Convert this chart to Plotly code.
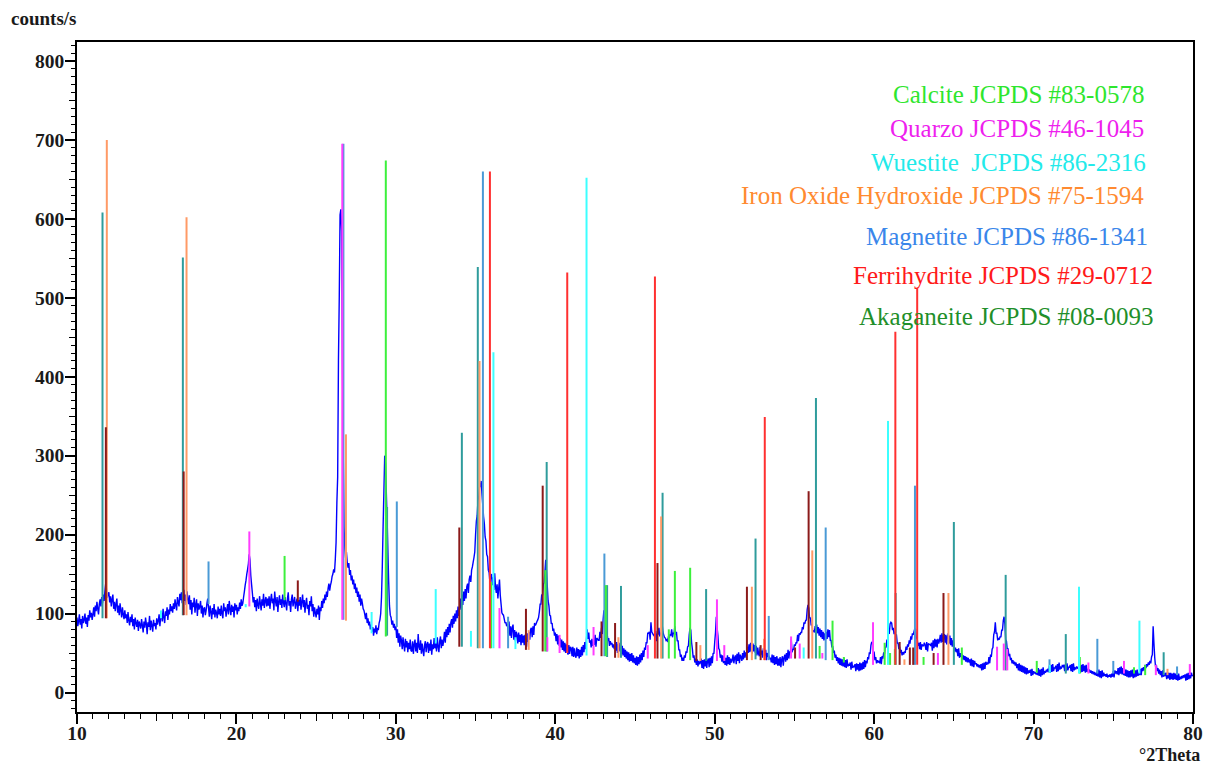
import numpy as np
import plotly.graph_objects as go

# ---------------- measured pattern (counts/s), 0.05 deg steps from 10 to 80 deg 2Theta
intensity_rows = [
    [95, 84, 90, 99, 86, 93, 81, 97, 88, 92, 100, 87, 95, 83, 98, 91, 104, 95, 101, 92],          # 10
    [99, 108, 96, 110, 103, 115, 106, 99, 112, 118, 109, 121, 113, 124, 116, 128, 138, 131, 120, 125],  # 11
    [127, 114, 122, 109, 118, 124, 106, 115, 103, 112, 119, 101, 110, 98, 113, 104, 95, 108, 99, 93],   # 12
    [104, 94, 99, 88, 102, 91, 85, 96, 89, 99, 84, 93, 80, 95, 88, 83, 92, 78, 90, 86],          # 13
    [81, 93, 85, 76, 90, 82, 95, 87, 74, 89, 83, 97, 79, 91, 85, 77, 92, 84, 88, 80],            # 14
    [94, 86, 91, 99, 84, 96, 101, 90, 106, 95, 88, 103, 97, 108, 92, 105, 99, 112, 103, 109],    # 15
    [101, 113, 106, 118, 110, 104, 121, 114, 109, 125, 117, 127, 113, 122, 130, 116, 124, 111, 128, 119],  # 16
    [112, 123, 105, 117, 99, 114, 108, 120, 101, 111, 118, 97, 113, 105, 109, 116, 100, 110, 95, 106],  # 17
    [108, 98, 104, 113, 119, 107, 96, 110, 102, 93, 107, 99, 112, 95, 105, 101, 94, 109, 99, 106],  # 18
    [97, 110, 100, 94, 113, 103, 108, 96, 105, 112, 99, 116, 106, 98, 111, 102, 109, 95, 113, 104],  # 19
    [111, 99, 108, 103, 114, 106, 118, 110, 113, 121, 128, 136, 142, 150, 156, 163, 175, 168, 148, 137],  # 20
    [126, 114, 121, 108, 117, 103, 119, 111, 106, 122, 113, 104, 118, 110, 125, 107, 116, 121, 109, 119],  # 21
    [110, 122, 106, 118, 125, 113, 119, 104, 128, 116, 109, 121, 102, 115, 123, 111, 118, 107, 124, 114],  # 22
    [108, 121, 113, 104, 119, 127, 110, 116, 102, 118, 124, 109, 115, 121, 106, 113, 119, 103, 117, 110],  # 23
    [121, 105, 115, 124, 108, 117, 101, 113, 120, 106, 111, 98, 116, 109, 122, 103, 112, 96, 108, 101],  # 24
    [95, 106, 99, 110, 92, 108, 103, 116, 107, 119, 113, 124, 117, 128, 121, 132, 138, 129, 136, 140],  # 25
    [147, 150, 156, 152, 168, 190, 240, 273, 421, 500, 605, 612, 585, 420, 300, 210, 182, 170, 178, 165],  # 26
    [158, 164, 149, 155, 142, 148, 137, 143, 131, 138, 126, 133, 121, 128, 115, 124, 110, 119, 113, 106],  # 27
    [104, 99, 93, 101, 88, 94, 85, 90, 80, 86, 77, 83, 72, 81, 76, 85, 74, 82, 79, 88],          # 28
    [92, 100, 121, 160, 210, 255, 300, 290, 255, 220, 180, 140, 110, 98, 95, 86, 91, 82, 87, 79],  # 29
    [84, 69, 80, 63, 75, 58, 72, 66, 55, 70, 60, 52, 68, 57, 65, 51, 63, 55, 67, 53],            # 30
    [52, 65, 49, 61, 67, 52, 63, 50, 74, 58, 54, 66, 49, 62, 53, 46, 60, 65, 51, 61],            # 31
    [64, 50, 62, 53, 67, 48, 61, 55, 69, 56, 64, 52, 70, 58, 51, 65, 71, 56, 67, 59],            # 32
    [66, 77, 63, 80, 70, 83, 73, 87, 76, 89, 93, 82, 97, 87, 100, 90, 104, 94, 109, 97],         # 33
    [108, 119, 105, 124, 111, 128, 116, 131, 119, 134, 138, 126, 143, 148, 140, 155, 159, 165, 171, 178],  # 34
    [200, 217, 224, 243, 248, 260, 261, 268, 252, 238, 223, 214, 197, 192, 175, 172, 155, 152, 139, 147],  # 35
    [150, 136, 146, 130, 151, 134, 126, 137, 119, 132, 143, 123, 112, 101, 99, 98, 93, 88, 89, 84],  # 36
    [87, 75, 90, 72, 84, 69, 82, 86, 67, 79, 65, 77, 73, 62, 76, 64, 73, 60, 74, 63],            # 37
    [72, 60, 73, 63, 58, 75, 64, 77, 67, 80, 82, 70, 84, 73, 88, 85, 87, 90, 92, 95],            # 38
    [102, 112, 112, 124, 123, 137, 139, 152, 168, 153, 134, 116, 110, 98, 97, 87, 88, 78, 81, 72],  # 39
    [76, 65, 74, 61, 72, 59, 69, 57, 67, 54, 65, 52, 63, 50, 61, 52, 48, 60, 49, 58],            # 40
    [56, 46, 58, 45, 56, 47, 44, 57, 46, 55, 43, 54, 45, 58, 47, 60, 51, 64, 55, 66],            # 41
    [80, 68, 76, 63, 66, 57, 68, 59, 61, 61, 73, 58, 69, 68, 66, 66, 77, 69, 82, 74],            # 42
    [92, 104, 95, 86, 74, 75, 65, 69, 59, 65, 61, 63, 57, 61, 55, 59, 53, 64, 50, 61],           # 43
    [63, 52, 60, 49, 59, 47, 56, 45, 54, 43, 52, 41, 51, 39, 49, 40, 50, 38, 47, 37],            # 44
    [44, 35, 46, 34, 45, 36, 48, 38, 50, 41, 53, 45, 57, 54, 63, 63, 75, 75, 77, 67],            # 45
    [89, 77, 75, 73, 72, 70, 78, 65, 74, 74, 82, 71, 75, 75, 87, 77, 73, 70, 69, 66],            # 46
    [67, 64, 71, 69, 74, 72, 80, 70, 75, 75, 84, 73, 77, 65, 66, 54, 54, 45, 48, 40],            # 47
    [44, 40, 47, 44, 52, 50, 58, 59, 73, 82, 79, 63, 55, 44, 47, 38, 43, 35, 42, 33],            # 48
    [40, 36, 38, 43, 31, 41, 30, 42, 33, 44, 31, 40, 43, 32, 44, 34, 46, 37, 50, 49],            # 49
    [64, 76, 96, 82, 72, 56, 54, 44, 48, 39, 47, 37, 46, 35, 44, 34, 47, 36, 45, 35],            # 50
    [43, 38, 41, 48, 37, 44, 47, 36, 49, 40, 51, 37, 48, 45, 40, 50, 42, 53, 44, 51],            # 51
    [49, 58, 50, 61, 51, 63, 53, 49, 62, 52, 60, 50, 59, 47, 57, 49, 46, 58, 48, 53],            # 52
    [44, 56, 46, 48, 54, 41, 50, 46, 46, 43, 44, 38, 48, 37, 47, 35, 45, 36, 46, 34],            # 53
    [43, 34, 45, 32, 42, 46, 34, 44, 48, 39, 50, 41, 54, 43, 52, 50, 68, 51, 55, 54],            # 54
    [61, 59, 63, 63, 73, 65, 75, 73, 76, 76, 83, 80, 89, 87, 91, 92, 105, 111, 107, 94],         # 55
    [95, 85, 87, 77, 79, 76, 84, 74, 86, 75, 83, 72, 81, 70, 79, 68, 77, 66, 75, 67],            # 56
    [77, 68, 80, 70, 79, 66, 66, 57, 59, 50, 53, 44, 48, 40, 45, 37, 44, 35, 43, 34],            # 57
    [42, 33, 44, 32, 41, 31, 42, 33, 36, 34, 38, 29, 39, 31, 34, 32, 36, 27, 37, 29],            # 58
    [36, 27, 38, 28, 37, 29, 39, 30, 41, 32, 40, 37, 45, 42, 51, 49, 60, 64, 63, 51],            # 59
    [51, 41, 45, 37, 41, 38, 40, 37, 45, 36, 46, 43, 51, 49, 58, 57, 67, 65, 75, 75],            # 60
    [87, 89, 88, 79, 82, 74, 77, 73, 73, 62, 63, 55, 58, 50, 54, 47, 51, 48, 52, 50],            # 61
    [58, 54, 61, 58, 66, 62, 71, 67, 75, 73, 77, 81, 80, 69, 68, 59, 63, 55, 64, 54],            # 62
    [61, 59, 59, 63, 60, 54, 64, 52, 62, 61, 61, 59, 63, 53, 66, 56, 68, 58, 67, 57],            # 63
    [68, 62, 66, 73, 63, 75, 64, 72, 74, 63, 73, 61, 71, 75, 62, 72, 60, 69, 58, 66],            # 64
    [61, 52, 57, 51, 55, 46, 56, 44, 50, 45, 49, 42, 47, 41, 46, 39, 45, 38, 44, 38],            # 65
    [42, 34, 43, 33, 41, 32, 40, 36, 37, 33, 36, 32, 35, 31, 36, 28, 37, 29, 38, 30],            # 66
    [39, 35, 38, 36, 45, 37, 48, 45, 55, 57, 73, 77, 89, 75, 75, 66, 69, 67, 71, 70],            # 67
    [79, 79, 91, 96, 87, 67, 65, 54, 56, 46, 49, 41, 44, 37, 41, 36, 39, 34, 38, 31],            # 68
    [36, 28, 37, 27, 35, 26, 34, 25, 33, 24, 32, 23, 31, 24, 28, 25, 29, 21, 30, 22],            # 69
    [27, 24, 26, 23, 25, 22, 31, 21, 29, 20, 30, 22, 32, 23, 27, 25, 28, 27, 30, 26],            # 70
    [34, 25, 35, 26, 36, 27, 31, 31, 34, 26, 36, 27, 38, 29, 32, 31, 34, 33, 35, 27],            # 71
    [36, 27, 37, 28, 32, 32, 35, 27, 36, 26, 37, 28, 31, 30, 33, 31, 32, 29, 33, 25],            # 72
    [35, 26, 36, 27, 34, 25, 35, 26, 30, 27, 29, 25, 28, 24, 27, 23, 26, 22, 25, 21],            # 73
    [28, 20, 29, 19, 27, 18, 28, 20, 25, 21, 23, 20, 24, 19, 22, 20, 23, 19, 24, 20],            # 74
    [27, 19, 28, 24, 27, 23, 31, 22, 32, 24, 33, 23, 31, 22, 30, 21, 29, 20, 28, 19],            # 75
    [27, 19, 28, 20, 29, 18, 27, 19, 28, 20, 29, 21, 25, 22, 30, 22, 31, 27, 32, 28],            # 76
    [35, 31, 36, 33, 38, 35, 40, 37, 45, 48, 84, 62, 44, 33, 35, 27, 31, 24, 29, 22],            # 77
    [27, 19, 28, 20, 24, 21, 25, 17, 26, 18, 25, 16, 25, 17, 24, 16, 25, 17, 24, 16],            # 78
    [23, 15, 24, 16, 20, 17, 21, 18, 22, 19, 23, 15, 24, 16, 25, 17, 26, 18, 25, 21],            # 79
    [22],                                                                                        # 80
]
intensity = [v for row in intensity_rows for v in row]
two_theta = np.linspace(10.0, 80.0, len(intensity))

# ---------------- reference stick lines: (2Theta, top, base) in counts/s
teal_lines = [
    (11.60, 608, 94), (16.64, 551, 98), (29.45, 235, 72), (34.14, 329, 58),
    (35.14, 539, 56), (39.46, 292, 52), (43.25, 136, 45), (44.12, 135, 44),
    (46.73, 253, 43), (49.46, 131, 40), (52.56, 195, 42), (56.35, 373, 43),
    (61.35, 126, 35), (65.00, 216, 35), (68.25, 149, 28), (72.02, 74, 24),
    (78.16, 51, 22),
]
steelblue_lines = [
    (18.25, 166, 112), (26.71, 695, 92), (30.06, 242, 83), (35.46, 660, 56),
    (37.04, 96, 56), (43.08, 176, 46), (53.39, 97, 41), (56.96, 209, 41),
    (62.56, 262, 35), (71.00, 42, 25), (74.00, 68, 24), (75.00, 40, 24),
    (79.00, 33, 22),
]
orange_lines = [
    (11.87, 700, 94), (16.87, 602, 98), (26.87, 327, 91), (35.25, 420, 56),
    (38.33, 79, 54), (43.96, 70, 44), (46.64, 223, 43), (49.10, 60, 40),
    (52.33, 134, 41), (53.10, 68, 41), (56.12, 180, 43), (61.90, 42, 35),
    (64.66, 126, 35), (78.40, 30, 22),
]
darkred_lines = [
    (11.81, 336, 94), (16.69, 280, 98), (23.85, 142, 115), (33.98, 209, 58),
    (38.16, 106, 54), (39.21, 262, 52), (42.90, 90, 46), (43.75, 88, 44),
    (46.41, 164, 43), (48.85, 64, 40), (52.02, 134, 41), (52.88, 60, 41),
    (55.04, 57, 43), (55.89, 255, 43), (61.60, 64, 35), (62.24, 57, 35),
    (62.45, 57, 35), (63.73, 50, 35), (64.35, 126, 35),
]
magenta_lines = [
    (20.81, 204, 109), (26.64, 695, 92), (36.50, 107, 56), (39.50, 70, 52),
    (40.27, 73, 50), (42.40, 83, 47), (45.80, 60, 43), (50.14, 118, 40),
    (50.60, 60, 40), (54.79, 71, 43), (55.33, 62, 43), (56.75, 50, 43),
    (59.93, 89, 35), (64.00, 50, 35), (67.71, 58, 28), (68.13, 62, 28),
    (68.35, 55, 28), (73.44, 38, 24), (75.67, 40, 24), (77.67, 35, 22),
    (79.80, 36, 22),
]
green_lines = [
    (23.02, 173, 117), (29.37, 674, 71), (35.97, 140, 56), (39.37, 155, 52),
    (43.17, 136, 46), (47.12, 80, 43), (47.50, 154, 43), (48.46, 158, 41),
    (56.58, 59, 43), (57.39, 91, 41), (58.10, 45, 38), (60.66, 63, 35),
    (61.00, 50, 35), (61.30, 55, 35), (63.10, 45, 35), (65.50, 57, 35),
    (70.20, 40, 25), (72.90, 45, 24), (76.30, 32, 24), (77.00, 35, 22),
]
cyan_lines = [
    (15.27, 104, 94), (20.58, 112, 108), (28.48, 102, 75), (32.50, 131, 62),
    (34.71, 78, 58), (36.12, 431, 56), (37.50, 70, 55), (41.96, 652, 47),
    (55.58, 57, 43), (60.87, 344, 35), (71.02, 35, 25), (72.85, 134, 24),
    (76.64, 91, 24),
]
red_lines = [
    (35.90, 660, 56), (40.75, 532, 50), (46.25, 527, 43), (53.14, 349, 41),
    (61.33, 457, 35), (62.70, 512, 35),
]

legend_labels = [
    "Calcite JCPDS #83-0578",
    "Quarzo JCPDS #46-1045",
    "Wuestite  JCPDS #86-2316",
    "Iron Oxide Hydroxide JCPDS #75-1594",
    "Magnetite JCPDS #86-1341",
    "Ferrihydrite JCPDS #29-0712",
    "Akaganeite JCPDS #08-0093",
]
legend_colors = ["#2ee62e", "#ee1fee", "#22eaea", "#ff8a30", "#3a86ea", "#ff1a1a", "#1f8f2a"]
legend_x = [77.06, 77.06, 77.2, 77.06, 77.3, 77.6, 77.6]
legend_y = [757, 714, 671, 629, 577, 528, 476]

x_range = [10, 80]
y_range = [-24.7, 824]


def sticks(lines):
    xs, ys = [], []
    for pos, top, base in lines:
        xs += [pos, pos, None]
        ys += [base, top, None]
    return xs, ys


fig = go.Figure()
fig.add_trace(go.Scatter(x=two_theta, y=intensity, mode="lines",
                         line=dict(color="#0000ff", width=1.4, simplify=False),
                         hoverinfo="skip"))

groups = [
    (teal_lines, "#2f9c9c"),
    (steelblue_lines, "#4a9ad6"),
    (orange_lines, "#ff9a66"),
    (darkred_lines, "#8b1a1a"),
    (magenta_lines, "#ff3cff"),
    (green_lines, "#3cf03c"),
    (cyan_lines, "#3cffff"),
    (red_lines, "#ff3030"),
]
for lines, col in groups:
    xs, ys = sticks(lines)
    fig.add_trace(go.Scatter(x=xs, y=ys, mode="lines", line=dict(color=col, width=2),
                             hoverinfo="skip"))

# dummy trace for the overlay axes carrying the medium ticks
fig.add_trace(go.Scatter(x=[None], y=[None], xaxis="x2", yaxis="y2", showlegend=False))

tickfont = dict(family="Liberation Serif", size=19.5, color="#1a1a1a", weight="bold")

# the page adds an 8 px body margin, so the figure is sized/offset to compensate
fig.update_layout(
    width=1207, height=759,
    margin=dict(l=69, r=19, t=34, b=55),
    plot_bgcolor="white", paper_bgcolor="white",
    showlegend=False,
    xaxis=dict(range=x_range, showgrid=False, zeroline=False, showline=True,
               linecolor="black", linewidth=1.5, mirror=True,
               ticks="outside", ticklen=10, tickwidth=1.5, tickcolor="black",
               tick0=0, dtick=10, tickfont=tickfont, ticklabelstandoff=-7,
               minor=dict(ticks="outside", dtick=1, ticklen=5, tickwidth=1, tickcolor="black")),
    xaxis2=dict(range=x_range, overlaying="x", anchor="y", side="bottom",
                showgrid=False, zeroline=False, showline=False, showticklabels=False,
                ticks="outside", ticklen=8, tickwidth=1.2, tickcolor="black", tick0=0, dtick=5),
    yaxis=dict(range=y_range, showgrid=False, zeroline=False, showline=True,
               linecolor="black", linewidth=1.5, mirror=True,
               ticks="outside", ticklen=10, tickwidth=1.5, tickcolor="black",
               tick0=0, dtick=100, tickfont=tickfont, ticklabelstandoff=-3,
               minor=dict(ticks="outside", dtick=10, ticklen=4, tickwidth=1, tickcolor="black")),
    yaxis2=dict(range=y_range, overlaying="y", anchor="x", side="left",
                showgrid=False, zeroline=False, showline=False, showticklabels=False,
                ticks="outside", ticklen=7, tickwidth=1.2, tickcolor="black", tick0=0, dtick=50),
)

plot_w, plot_h = 1119, 670
annotations = [
    dict(text="counts/s", xref="paper", yref="paper", x=(1 - 69) / plot_w, y=(704 - 10) / plot_h,
         xanchor="left", yanchor="middle", showarrow=False,
         font=dict(family="Liberation Serif", size=19, color="#1a1a1a", weight="bold")),
    dict(text="°2Theta", xref="paper", yref="paper", x=(1197 - 69) / plot_w, y=(704 - 747) / plot_h,
         xanchor="right", yanchor="middle", showarrow=False,
         font=dict(family="Liberation Serif", size=18, color="#1a1a1a", weight="bold")),
]
for lab, col, lx, ly in zip(legend_labels, legend_colors, legend_x, legend_y):
    annotations.append(dict(text=lab, x=lx, y=ly, xref="x", yref="y", xanchor="right",
                            yanchor="middle", showarrow=False,
                            font=dict(family="Liberation Serif", size=25, color=col)))
fig.update_layout(annotations=annotations)

fig.write_html("out.html")
